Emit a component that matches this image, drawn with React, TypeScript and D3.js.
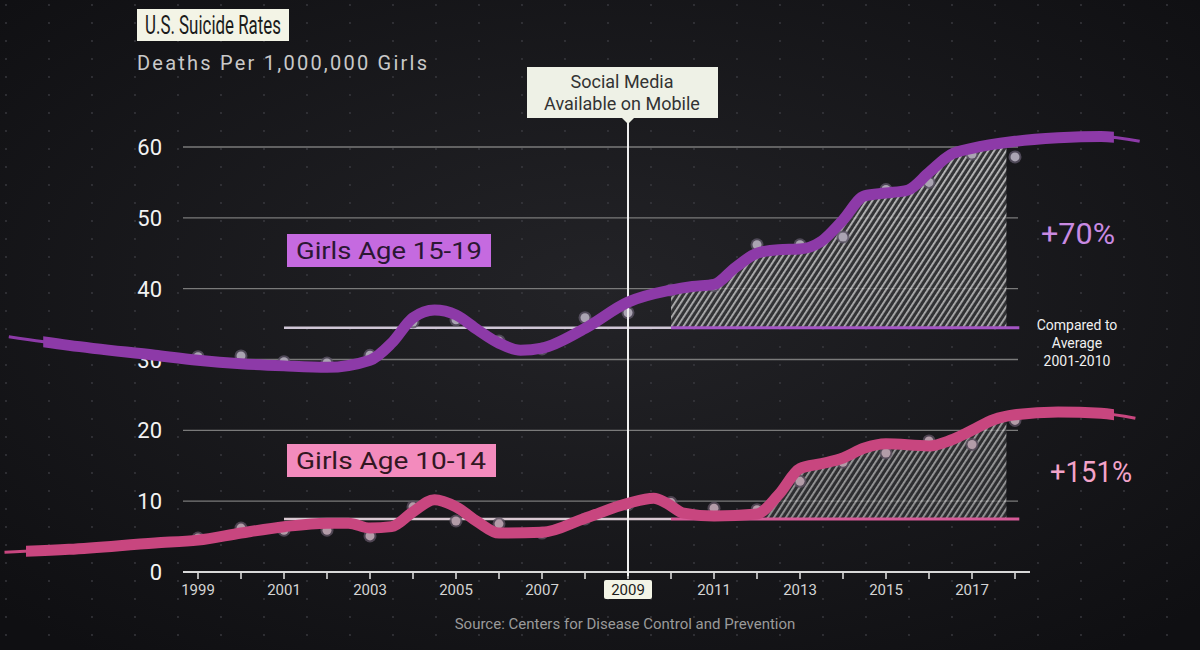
import React from "react";
import * as d3 from "d3";

// ---------- DATA ----------
const dotYears = [1999, 2000, 2001, 2002, 2003, 2004, 2005, 2006, 2007, 2008, 2009, 2010, 2011, 2012, 2013, 2014, 2015, 2016, 2017, 2018];
const teenDots = [30.4, 30.5, 29.7, 29.5, 30.6, 35.3, 35.6, 32.6, 31.5, 35.9, 36.6, 39.8, 40.4, 46.2, 46.2, 47.3, 54.0, 55.0, 59.0, 58.6];
const preteenDots = [4.8, 6.2, 5.9, 5.9, 5.1, 9.2, 7.2, 6.8, 5.5, 7.5, 9.5, 9.8, 9.0, 8.8, 12.8, 15.5, 16.8, 18.5, 18.0, 21.4];

// smoothed trend lines (extend past the data on both sides)
const teenLineYears = [1994.6, 1996, 1998, 1999, 2000, 2001, 2002, 2003, 2003.5, 2004, 2004.5, 2005, 2005.5, 2006, 2006.5, 2007, 2008, 2009, 2010, 2010.5, 2011, 2011.5, 2012, 2012.5, 2013, 2013.5, 2014, 2014.5, 2015, 2015.5, 2016, 2016.5, 2017, 2018, 2019, 2020, 2020.9];
const teenLineValues = [33.2, 32.0, 30.6, 29.9, 29.4, 29.1, 28.9, 29.9, 32.3, 35.9, 37.0, 36.3, 34.2, 32.3, 31.3, 31.6, 34.4, 38.1, 39.8, 40.3, 40.6, 43.0, 45.0, 45.5, 45.6, 46.7, 49.7, 53.1, 53.5, 53.9, 56.4, 58.9, 59.8, 60.8, 61.3, 61.5, 60.8];
const preteenLineYears = [1994.5, 1996, 1998, 1999, 2000, 2001, 2002, 2002.5, 2003, 2003.5, 2004, 2004.5, 2005, 2005.5, 2006, 2007, 2008, 2009, 2009.6, 2009.9, 2010.3, 2011, 2012, 2012.5, 2013, 2013.5, 2014, 2014.5, 2015, 2016, 2016.5, 2017, 2017.5, 2018, 2019, 2020, 2020.8];
const preteenLineValues = [2.8, 3.2, 4.1, 4.5, 5.5, 6.4, 6.9, 6.9, 6.2, 6.4, 8.5, 10.2, 9.2, 7.1, 5.5, 5.6, 7.6, 9.7, 10.4, 9.7, 8.3, 7.9, 8.2, 10.9, 14.6, 15.3, 16.1, 17.5, 18.1, 17.8, 18.6, 20.0, 21.5, 22.2, 22.6, 22.4, 21.7];

const teenAvg = 34.5;
const preteenAvg = 7.5;
const avgStart = 2001;
const avgSplit = 2010;
const avgEnd = 2018.1;

const yTicks = [0, 10, 20, 30, 40, 50, 60];
const xTickYears = d3.range(1999, 2019);
const xLabelYears = [1999, 2001, 2003, 2005, 2007, 2009, 2011, 2013, 2015, 2017];
const markerYear = 2009;

const FONT = "Roboto,'Noto Sans',sans-serif";

const PURPLE = "#8d3aa8";
const PINK = "#c8467f";

export default function App() {
  const W = 1200, H = 650;
  const x = d3.scaleLinear().domain([1999, 2009]).range([198, 628]);
  const y = d3.scaleLinear().domain([0, 60]).range([572, 147]);

  const lineGen = d3
    .line<[number, number]>()
    .x((d) => x(d[0]))
    .y((d) => y(d[1]))
    .curve(d3.curveMonotoneX);

  const teenPts: [number, number][] = teenLineYears.map((yr, i) => [yr, teenLineValues[i]]);
  const prePts: [number, number][] = preteenLineYears.map((yr, i) => [yr, preteenLineValues[i]]);

  const interp = (pts: [number, number][], yr: number) => {
    for (let i = 0; i < pts.length - 1; i++) {
      if (yr >= pts[i][0] && yr <= pts[i + 1][0]) {
        const t = (yr - pts[i][0]) / (pts[i + 1][0] - pts[i][0]);
        return pts[i][1] + t * (pts[i + 1][1] - pts[i][1]);
      }
    }
    return pts[pts.length - 1][1];
  };

  const hatchArea = (pts: [number, number][], avg: number, from: number, to: number) => {
    const yrs = d3.range(from, to, 0.05).concat([to]);
    const a = d3
      .area<number>()
      .x((yr) => x(yr))
      .y0(() => y(avg))
      .y1((yr) => y(Math.max(avg, interp(pts, yr) - 0.6)))
      .curve(d3.curveLinear);
    return a(yrs) || "";
  };

  const teenPath = lineGen(teenPts) || "";
  const prePath = lineGen(prePts) || "";

  const gridX0 = 183, gridX1 = 1018;

  return (
    <svg width={W} height={H} style={{ position: "absolute", left: 0, top: 0, display: "block" }} fontFamily={FONT}>
      <defs>
        <radialGradient id="bg" cx="50%" cy="45%" r="70%">
          <stop offset="0%" stopColor="#232327" />
          <stop offset="100%" stopColor="#0f0f12" />
        </radialGradient>
        <pattern id="dots" width="43" height="18" patternUnits="userSpaceOnUse" x={x(1999) - 21} y="4">
          <circle cx="1" cy="1" r="0.9" fill="#3a3a40" />
        </pattern>
        <pattern id="hatch" width="5" height="5" patternUnits="userSpaceOnUse" patternTransform="rotate(33)">
          <rect width="5" height="5" fill="#3a3b3d" />
          <line x1="0.9" y1="0" x2="0.9" y2="5" stroke="#e6e6e6" strokeWidth="1.8" />
        </pattern>
        <linearGradient id="fadeV" x1="0" y1="0" x2="0" y2="1">
          <stop offset="0%" stopColor="#fff" stopOpacity="1" />
          <stop offset="100%" stopColor="#fff" stopOpacity="0.6" />
        </linearGradient>
        <mask id="hatchMask" maskUnits="userSpaceOnUse" x="0" y="0" width={W} height={H}>
          <rect width={W} height={H} fill="url(#fadeV)" />
        </mask>
        <clipPath id="teenThick">
          <rect x={x(1995.4)} y="0" width={x(2020.3) - x(1995.4)} height={H} />
        </clipPath>
        <clipPath id="preThick">
          <rect x={x(1995.0)} y="0" width={x(2020.3) - x(1995.0)} height={H} />
        </clipPath>
      </defs>

      <rect width={W} height={H} fill="url(#bg)" />
      <rect width={W} height={H} fill="url(#dots)" />

      {/* title */}
      <rect x={137} y={9} width={152} height={32} fill="#f3f4e6" />
      <text x={213} y={34} textAnchor="middle" fontSize={26} fill="#1b1b1b" textLength={136} lengthAdjust="spacingAndGlyphs">
        U.S. Suicide Rates
      </text>
      <text x={137} y={70} fontSize={20} fill="#c9c9c9" textLength={290} lengthAdjust="spacing">
        Deaths Per 1,000,000 Girls
      </text>

      {/* gridlines */}
      {yTicks.filter((t) => t > 0).map((t) => (
        <line key={t} x1={gridX0} x2={gridX1} y1={y(t)} y2={y(t)} stroke="#7a7a7a" strokeWidth={1.4} />
      ))}
      {yTicks.map((t) => (
        <text key={"yl" + t} x={162} y={y(t) + 8} textAnchor="end" fontSize={22} fill="#f2f2f2">
          {t}
        </text>
      ))}

      {/* x axis */}
      <line x1={gridX0} x2={1030} y1={y(0)} y2={y(0)} stroke="#d8d8d8" strokeWidth={2} />
      {xTickYears.map((yr) => (
        <line key={yr} x1={x(yr)} x2={x(yr)} y1={y(0)} y2={y(0) + 7} stroke="#d8d8d8" strokeWidth={1.6} />
      ))}
      <rect x={x(markerYear) - 24} y={580} width={48} height={19} rx={2} fill="#f3f4e6" />
      {xLabelYears.map((yr) => (
        <text key={"xl" + yr} x={x(yr)} y={595} textAnchor="middle" fontSize={15} fill={yr === markerYear ? "#1b1b1b" : "#d4d4d4"}>
          {yr}
        </text>
      ))}
      <text x={625} y={629} textAnchor="middle" fontSize={15} fill="#9a9a9a">
        Source: Centers for Disease Control and Prevention
      </text>

      {/* hatched areas */}
      <g mask="url(#hatchMask)" opacity={0.9}>
        <path d={hatchArea(teenPts, teenAvg, 2010, 2017.8)} fill="url(#hatch)" />
        <path d={hatchArea(prePts, preteenAvg, 2012.2, 2017.8)} fill="url(#hatch)" />
      </g>

      {/* average lines */}
      <line x1={x(avgStart)} x2={x(avgSplit)} y1={y(teenAvg)} y2={y(teenAvg)} stroke="#cfc6d6" strokeWidth={2.5} />
      <line x1={x(avgSplit)} x2={x(avgEnd)} y1={y(teenAvg)} y2={y(teenAvg)} stroke="#a455c4" strokeWidth={3} />
      <line x1={x(avgStart)} x2={x(avgSplit)} y1={y(preteenAvg)} y2={y(preteenAvg)} stroke="#d9c9d2" strokeWidth={2.5} />
      <line x1={x(avgSplit)} x2={x(avgEnd)} y1={y(preteenAvg)} y2={y(preteenAvg)} stroke="#d65a97" strokeWidth={3} />

      {/* dots */}
      {dotYears.map((yr, i) => (
        <g key={"td" + yr}>
          <circle cx={x(yr)} cy={y(teenDots[i])} r={6.5} fill="#5c5566" opacity={0.8} />
          <circle cx={x(yr)} cy={y(teenDots[i])} r={4.5} fill="#aaa4b2" />
        </g>
      ))}
      {dotYears.map((yr, i) => (
        <g key={"pd" + yr}>
          <circle cx={x(yr)} cy={y(preteenDots[i])} r={6.5} fill="#5c5060" opacity={0.8} />
          <circle cx={x(yr)} cy={y(preteenDots[i])} r={4.5} fill="#b39ca8" />
        </g>
      ))}

      {/* vertical marker */}
      <line x1={x(markerYear)} x2={x(markerYear)} y1={120} y2={y(0) + 4} stroke="#f0f0f0" strokeWidth={2} />

      {/* trend lines */}
      <path d={teenPath} fill="none" stroke={PURPLE} strokeWidth={3} />
      <path d={teenPath} fill="none" stroke={PURPLE} strokeWidth={11} clipPath="url(#teenThick)" strokeLinejoin="round" />
      <path d={prePath} fill="none" stroke={PINK} strokeWidth={3} />
      <path d={prePath} fill="none" stroke={PINK} strokeWidth={11} clipPath="url(#preThick)" strokeLinejoin="round" />

      {/* social media annotation */}
      <rect x={527} y={67} width={191} height={51} fill="#eef1e6" />
      <path d={`M${x(markerYear) - 6},118 L${x(markerYear) + 6},118 L${x(markerYear)},124 Z`} fill="#eef1e6" />
      <text x={622} y={88} textAnchor="middle" fontSize={18} fill="#333">
        Social Media
      </text>
      <text x={622} y={110} textAnchor="middle" fontSize={18} fill="#333">
        Available on Mobile
      </text>

      {/* series labels */}
      <rect x={287} y={234} width={204} height={33} fill="#c56ae0" />
      <text x={389} y={259} textAnchor="middle" fontSize={24} fill="#2b1733" textLength={186} lengthAdjust="spacingAndGlyphs">
        Girls Age 15-19
      </text>
      <rect x={287} y={444} width={209} height={33} fill="#f38bbd" />
      <text x={391} y={469} textAnchor="middle" fontSize={24} fill="#321722" textLength={190} lengthAdjust="spacingAndGlyphs">
        Girls Age 10-14
      </text>

      {/* change labels */}
      <text x={1078} y={244} textAnchor="middle" fontSize={30} fill="#c98ae2" textLength={74} lengthAdjust="spacingAndGlyphs">
        +70%
      </text>
      <text x={1091} y={482} textAnchor="middle" fontSize={30} fill="#f3a3c9" textLength={82} lengthAdjust="spacingAndGlyphs">
        +151%
      </text>
      <text x={1077} y={330} textAnchor="middle" fontSize={14} fill="#f0f0f0">Compared to</text>
      <text x={1077} y={348} textAnchor="middle" fontSize={14} fill="#f0f0f0">Average</text>
      <text x={1077} y={366} textAnchor="middle" fontSize={14} fill="#f0f0f0">2001-2010</text>
    </svg>
  );
}
